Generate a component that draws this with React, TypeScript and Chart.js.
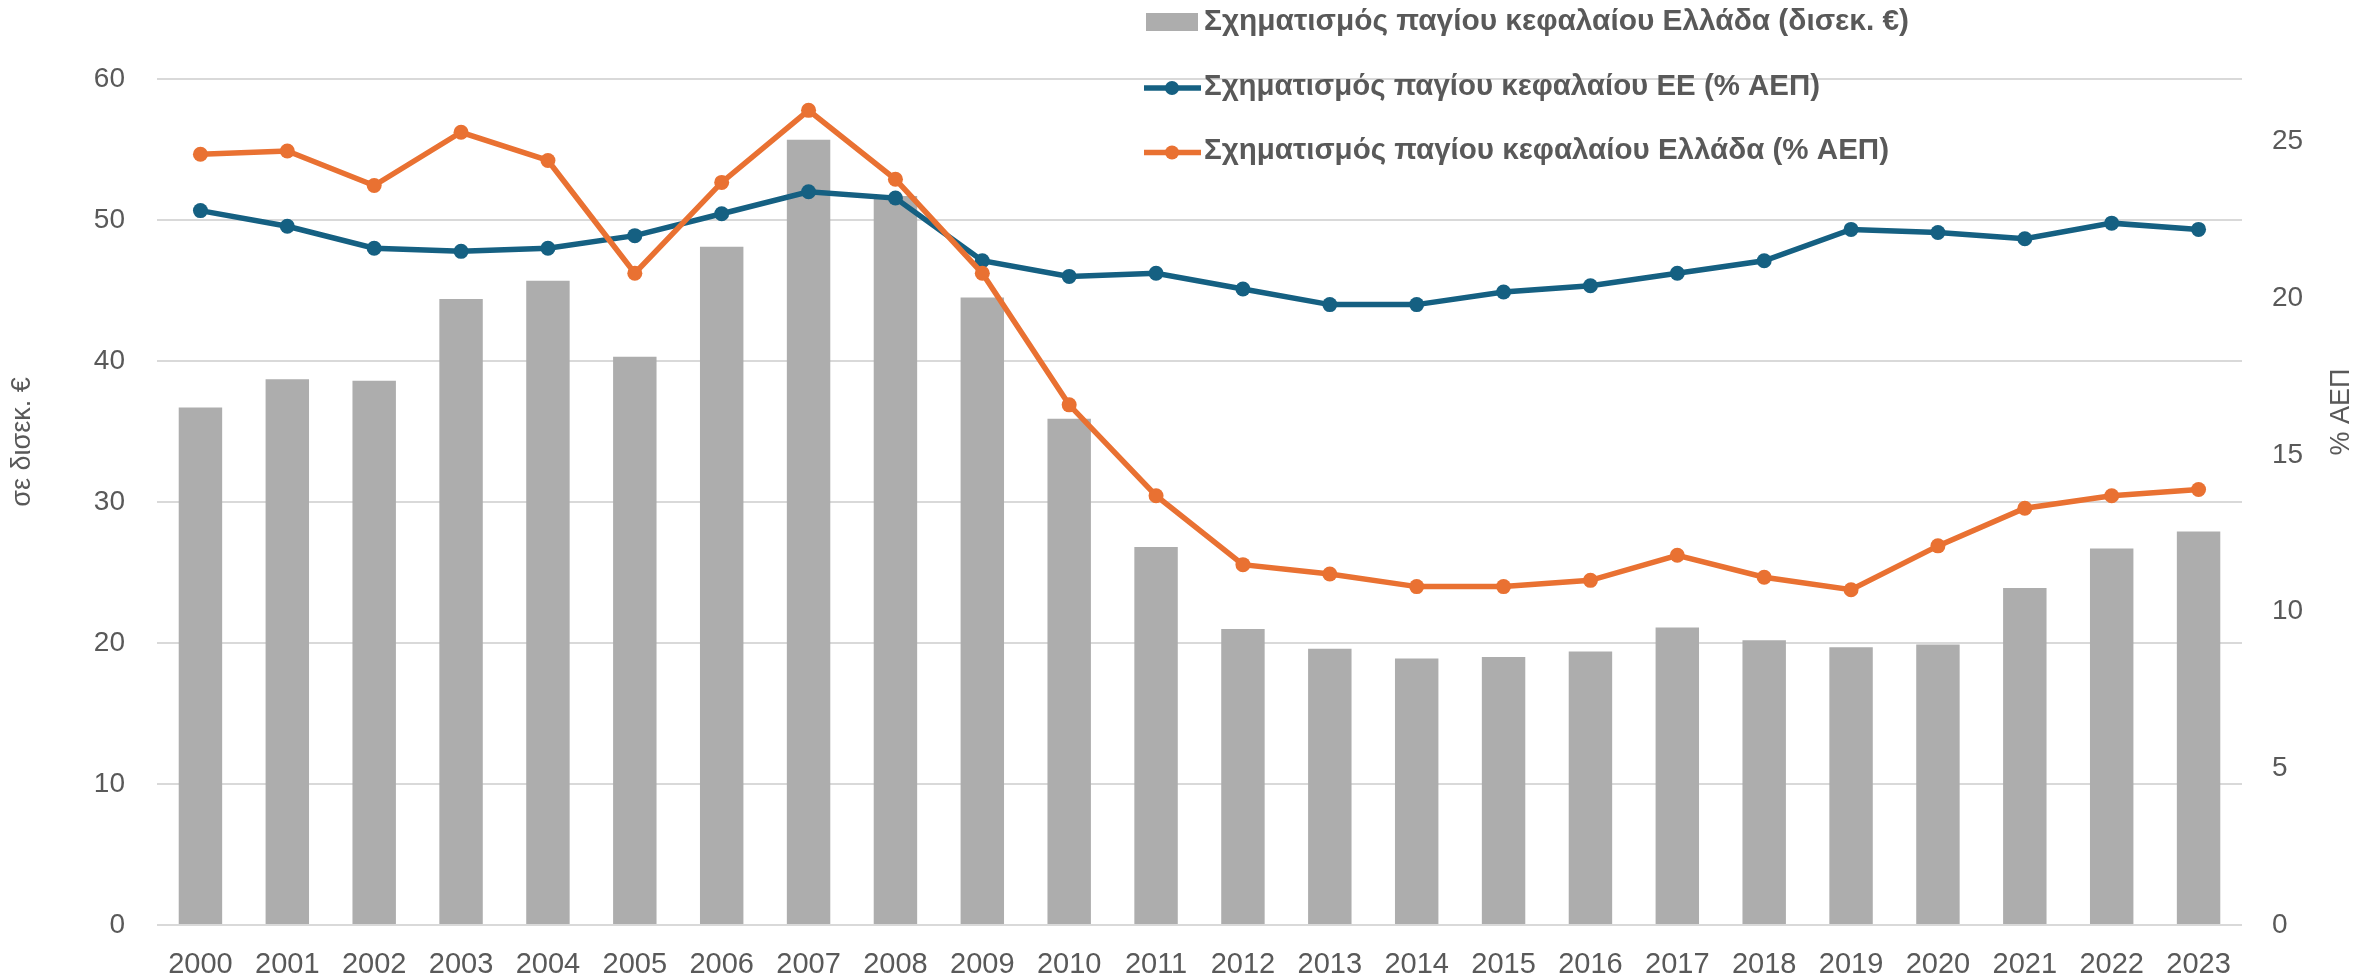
import React, { useEffect, useRef } from "react";
import { Chart, registerables } from "chart.js";

Chart.register(...registerables);

const years = ["2000","2001","2002","2003","2004","2005","2006","2007","2008","2009","2010","2011","2012","2013","2014","2015","2016","2017","2018","2019","2020","2021","2022","2023"];
const greeceBn = [36.7, 38.7, 38.6, 44.4, 45.7, 40.3, 48.1, 55.7, 51.7, 44.5, 35.9, 26.8, 21.0, 19.6, 18.9, 19.0, 19.4, 21.1, 20.2, 19.7, 19.9, 23.9, 26.7, 27.9];
const euPct = [22.8, 22.3, 21.6, 21.5, 21.6, 22.0, 22.7, 23.4, 23.2, 21.2, 20.7, 20.8, 20.3, 19.8, 19.8, 20.2, 20.4, 20.8, 21.2, 22.2, 22.1, 21.9, 22.4, 22.2];
const greecePct = [24.6, 24.7, 23.6, 25.3, 24.4, 20.8, 23.7, 26.0, 23.8, 20.8, 16.6, 13.7, 11.5, 11.2, 10.8, 10.8, 11.0, 11.8, 11.1, 10.7, 12.1, 13.3, 13.7, 13.9];
const leftTicks = [0, 10, 20, 30, 40, 50, 60];
const rightTicks = [0, 5, 10, 15, 20, 25];

const labelBars = "Σχηματισμός παγίου κεφαλαίου Ελλάδα (δισεκ. €)";
const labelEU = "Σχηματισμός παγίου κεφαλαίου ΕΕ (% ΑΕΠ)";
const labelGR = "Σχηματισμός παγίου κεφαλαίου Ελλάδα (% ΑΕΠ)";
const leftTitle = "σε δισεκ. €";
const rightTitle = "% ΑΕΠ";

const GRAY = "#ADADAD";
const BLUE = "#156082";
const ORANGE = "#E97132";
const TEXT = "#595959";
const FONT = "'Liberation Sans', Arial, sans-serif";

const overlayPlugin = {
  id: "overlay",
  afterDraw(chart: any) {
    const ctx = chart.ctx;
    ctx.save();
    ctx.fillStyle = TEXT;
    ctx.font = `27px ${FONT}`;
    ctx.textAlign = "center";
    ctx.textBaseline = "middle";
    ctx.save();
    ctx.translate(23, 442);
    ctx.rotate(-Math.PI / 2);
    ctx.fillText(leftTitle, 0, 0);
    ctx.restore();
    ctx.save();
    ctx.translate(2342, 412);
    ctx.rotate(-Math.PI / 2);
    ctx.fillText(rightTitle, 0, 0);
    ctx.restore();

    const items = [
      { text: labelBars, kind: "bar", color: GRAY, base: 30, cy: 22, end: 1909 },
      { text: labelEU, kind: "line", color: BLUE, base: 94.5, cy: 88, end: 1820 },
      { text: labelGR, kind: "line", color: ORANGE, base: 159, cy: 152.5, end: 1889 },
    ];
    const tx = 1204;
    ctx.font = `bold 29px ${FONT}`;
    ctx.textAlign = "left";
    ctx.textBaseline = "alphabetic";
    items.forEach((it) => {
      if (it.kind === "bar") {
        ctx.fillStyle = it.color;
        ctx.fillRect(1146, it.cy - 9, 52, 18);
      } else {
        ctx.strokeStyle = it.color;
        ctx.lineWidth = 5.5;
        ctx.beginPath();
        ctx.moveTo(1144, it.cy);
        ctx.lineTo(1201, it.cy);
        ctx.stroke();
        ctx.fillStyle = it.color;
        ctx.beginPath();
        ctx.arc(1172, it.cy, 7, 0, Math.PI * 2);
        ctx.fill();
      }
      const w = ctx.measureText(it.text).width;
      const target = it.end - tx;
      ctx.save();
      ctx.translate(tx, it.base);
      ctx.scale(target / w, 1);
      ctx.fillStyle = TEXT;
      ctx.fillText(it.text, 0, 0);
      ctx.restore();
    });
    ctx.restore();
  },
};

export default function App() {
  const ref = useRef<HTMLCanvasElement | null>(null);
  useEffect(() => {
    if (!ref.current) return;
    const chart = new Chart(ref.current, {
      type: "bar",
      data: {
        labels: years,
        datasets: [
          {
            type: "line",
            label: labelGR,
            data: greecePct,
            yAxisID: "y1",
            borderColor: ORANGE,
            backgroundColor: ORANGE,
            borderWidth: 5.5,
            pointRadius: 7.5,
            pointBackgroundColor: ORANGE,
            pointBorderColor: ORANGE,
            pointBorderWidth: 0,
            tension: 0,
            order: 0,
          },
          {
            type: "line",
            label: labelEU,
            data: euPct,
            yAxisID: "y1",
            borderColor: BLUE,
            backgroundColor: BLUE,
            borderWidth: 5.5,
            pointRadius: 7.5,
            pointBackgroundColor: BLUE,
            pointBorderColor: BLUE,
            pointBorderWidth: 0,
            tension: 0,
            order: 1,
          },
          {
            type: "bar",
            label: labelBars,
            data: greeceBn,
            yAxisID: "y",
            backgroundColor: GRAY,
            categoryPercentage: 0.5,
            barPercentage: 1,
            order: 2,
          },
        ],
      },
      options: {
        responsive: false,
        animation: false,
        devicePixelRatio: 1,
        layout: { padding: { top: 79, left: 0, right: 0, bottom: 0 } },
        plugins: {
          legend: { display: false },
          tooltip: { enabled: false },
          title: { display: false },
        },
        scales: {
          x: {
            type: "category",
            grid: { display: false },
            border: { display: false },
            ticks: {
              color: TEXT,
              font: { family: FONT, size: 29 },
              padding: 15,
              maxRotation: 0,
              autoSkip: false,
            },
            afterFit: (s: any) => { s.height = 55; },
          },
          y: {
            type: "linear",
            position: "left",
            min: leftTicks[0],
            max: leftTicks[leftTicks.length - 1],
            ticks: {
              stepSize: 10,
              color: TEXT,
              font: { family: FONT, size: 28 },
              padding: 32,
            },
            afterBuildTicks: (s: any) => { s.ticks = leftTicks.map((v) => ({ value: v })); },
            grid: { color: "#D9D9D9", lineWidth: 2, drawTicks: false },
            border: { display: false },
            afterFit: (s: any) => { s.width = 157; },
          },
          y1: {
            type: "linear",
            position: "right",
            min: 0,
            max: 27,
            ticks: {
              stepSize: 5,
              color: TEXT,
              font: { family: FONT, size: 28 },
              padding: 30,
            },
            afterBuildTicks: (s: any) => { s.ticks = rightTicks.map((v) => ({ value: v })); },
            grid: { display: false, drawTicks: false },
            border: { display: false },
            afterFit: (s: any) => { s.width = 137; },
          },
        },
      },
      plugins: [overlayPlugin],
    });
    return () => chart.destroy();
  }, []);
  return (
    <div style={{ position: "absolute", left: 0, top: 0, width: 2379, height: 980, background: "#fff" }}>
      <canvas ref={ref} width={2379} height={980} style={{ display: "block", width: 2379, height: 980 }} />
    </div>
  );
}
